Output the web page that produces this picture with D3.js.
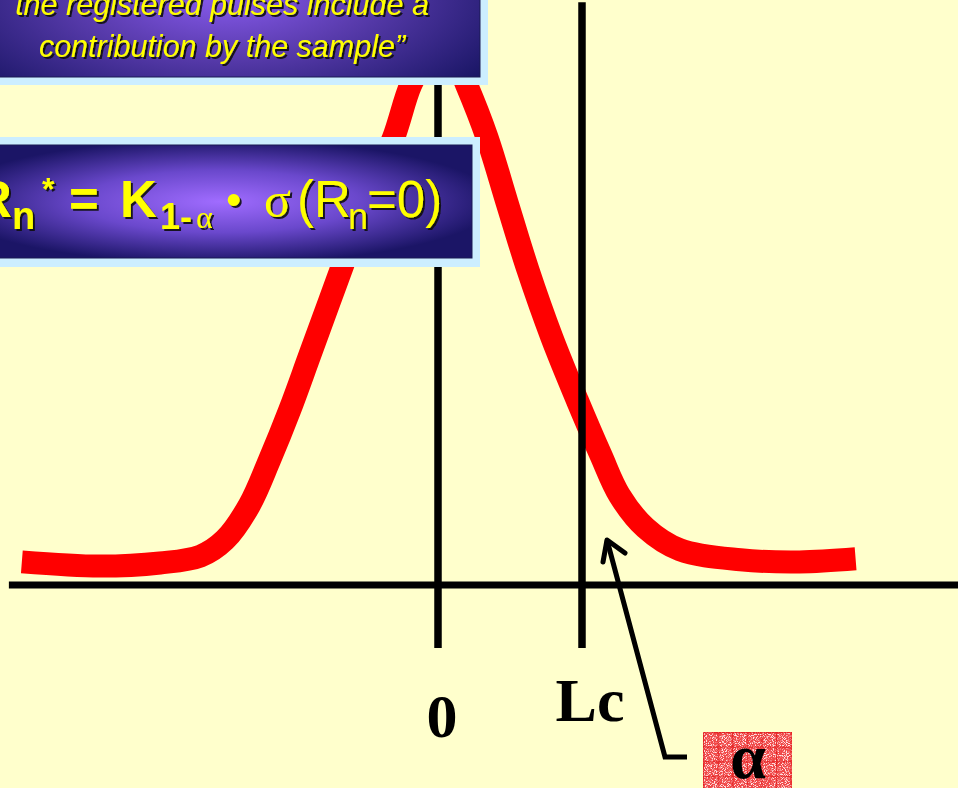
<!DOCTYPE html>
<html>
<head>
<meta charset="utf-8">
<script src="https://cdn.jsdelivr.net/npm/d3@7"></script>
<style>
  html, body { margin: 0; padding: 0; background: #FFFFCC; }
  svg { display: block; }
</style>
</head>
<body>
<script>
// curve of R_n when the sample gives nothing
var curveX = [-2.89, -2.35, -1.93, -1.65, -1.48, -1.31, -1.17, -1.03, -0.89, -0.75, -0.61, -0.47, -0.31, -0.19, -0.09, 0.01,
              0.12, 0.20, 0.34, 0.48, 0.625, 0.79, 0.97, 1.13, 1.26, 1.44, 1.68, 2.10, 2.51, 2.90];
var curveY = [0.044, 0.036, 0.042, 0.055, 0.086, 0.152, 0.238, 0.333, 0.438, 0.543, 0.648, 0.752, 0.851, 0.952, 1.000, 1.019,
              1.000, 0.952, 0.853, 0.728, 0.600, 0.472, 0.350, 0.248, 0.171, 0.109, 0.067, 0.048, 0.044, 0.050];

var tickValues = [0, 1];
var tickLabels = ['0', 'Lc'];
var axisExtent = [-2.98, 3.62];

var boxLines = ['the registered pulses include a', 'contribution by the sample\u201D'];

var width = 958,
    height = 788;

var svg = d3.select('body')
    .append('svg')
    .attr('width', width)
    .attr('height', height)

var defs = svg.append('defs')

var g1 = defs.append('radialGradient').attr('id', 'box1Grad')
    .attr('cx', 0.5).attr('cy', 0.62).attr('r', 0.62)
g1.append('stop').attr('offset', '0%').attr('stop-color', '#8a5cf0')
g1.append('stop').attr('offset', '45%').attr('stop-color', '#5a3cae')
g1.append('stop').attr('offset', '100%').attr('stop-color', '#1a1666')

var g2 = defs.append('radialGradient').attr('id', 'box2Grad')
    .attr('cx', 0.5).attr('cy', 0.5).attr('r', 0.55)
g2.append('stop').attr('offset', '0%').attr('stop-color', '#a06cff')
g2.append('stop').attr('offset', '50%').attr('stop-color', '#6a48cc')
g2.append('stop').attr('offset', '100%').attr('stop-color', '#1b1566')

var shadow = defs.append('filter').attr('id', 'shadow')
shadow.append('feDropShadow')
    .attr('dx', 2).attr('dy', 2).attr('stdDeviation', 0.6)
    .attr('flood-color', '#111').attr('flood-opacity', 0.9)

var speckle = defs.append('filter').attr('id', 'speckle')
    .attr('x', 0).attr('y', 0).attr('width', 1).attr('height', 1)
speckle.append('feTurbulence')
    .attr('type', 'fractalNoise').attr('baseFrequency', 1.1).attr('numOctaves', 1).attr('seed', 5).attr('result', 'n')
speckle.append('feColorMatrix').attr('in', 'n').attr('type', 'matrix')
    .attr('values', '0 0 0 0 1  0 0 0 0 0.8  0 0 0 0 0.8  0 0 0 6 -2.9').attr('result', 'w')
speckle.append('feComposite').attr('in', 'w').attr('in2', 'SourceGraphic').attr('operator', 'in')

var grid = defs.append('pattern').attr('id', 'grid')
    .attr('width', 14.6).attr('height', 14.6).attr('patternUnits', 'userSpaceOnUse')
    .attr('x', 703).attr('y', 732)
grid.append('path').attr('d', 'M0,0.5H14.6M0.5,0V14.6')
    .attr('stroke', '#e01010').attr('stroke-width', 1.3).attr('fill', 'none')

var xScale = d3.scaleLinear()
    .domain([0, 1])
    .range([438, 582])
var yScale = d3.scaleLinear()
    .domain([0, 1])
    .range([585, 60])

var data = curveX.map((d, i) => ({x: d, y: curveY[i]}))

var line = d3.line()
    .x(d => xScale(d.x))
    .y(d => yScale(d.y))
    .curve(d3.curveCatmullRom.alpha(0.5))

svg.append('path')
    .attr('d', line(data))
    .attr('fill', 'none')
    .attr('stroke', '#ff0000')
    .attr('stroke-width', 23)

// horizontal axis
svg.append('line')
    .attr('x1', xScale(axisExtent[0])).attr('x2', xScale(axisExtent[1]))
    .attr('y1', yScale(0)).attr('y2', yScale(0))
    .attr('stroke', '#000').attr('stroke-width', 7)

// vertical markers at 0 and Lc
svg.selectAll('.mark')
    .data(tickValues)
    .enter().append('line')
    .attr('class', 'mark')
    .attr('x1', d => xScale(d)).attr('x2', d => xScale(d))
    .attr('y1', yScale(1.11)).attr('y2', yScale(0) + 63)
    .attr('stroke', '#000').attr('stroke-width', 7.5)

svg.selectAll('.tlabel')
    .data(tickValues)
    .enter().append('text')
    .attr('class', 'tlabel')
    .attr('x', d => xScale(d) + (d === 0 ? 4 : 8))
    .attr('y', d => d === 0 ? 737 : 721)
    .attr('text-anchor', 'middle')
    .attr('font-family', '"Liberation Serif", "Times New Roman", serif')
    .attr('font-weight', 'bold')
    .attr('font-size', 62)
    .text((d, i) => tickLabels[i])

// arrow to the alpha tail
svg.append('polyline')
    .attr('points', '687,757 665,757 607,540')
    .attr('fill', 'none').attr('stroke', '#000').attr('stroke-width', 5)
svg.append('polyline')
    .attr('points', '603,562 607,540 625,553')
    .attr('fill', 'none').attr('stroke', '#000').attr('stroke-width', 5)
    .attr('stroke-linecap', 'round').attr('stroke-linejoin', 'round')

// alpha label
svg.append('rect').attr('x', 703).attr('y', 732).attr('width', 89).attr('height', 60).attr('fill', '#f04848')
svg.append('rect').attr('x', 703).attr('y', 732).attr('width', 89).attr('height', 60).attr('fill', '#fff').attr('filter', 'url(#speckle)')
svg.append('rect').attr('x', 703).attr('y', 732).attr('width', 89).attr('height', 60).attr('fill', 'url(#grid)').attr('opacity', 0.7)
svg.append('text')
    .attr('x', 748).attr('y', 778)
    .attr('text-anchor', 'middle')
    .attr('font-family', '"Liberation Serif", "Times New Roman", serif')
    .attr('font-weight', 'bold')
    .attr('font-size', 64)
    .text('\u03B1')

// box 1 (quote)
svg.append('rect').attr('x', -40).attr('y', -150).attr('width', 528).attr('height', 235).attr('fill', '#cceeff')
svg.append('rect').attr('x', -32).attr('y', -142).attr('width', 512).attr('height', 219)
    .attr('fill', 'url(#box1Grad)').attr('stroke', '#1a1a55').attr('stroke-width', 1)

var t1 = svg.append('text')
    .attr('text-anchor', 'middle')
    .attr('font-family', '"Liberation Sans", Arial, sans-serif')
    .attr('font-style', 'italic')
    .attr('font-size', 30.5)
    .attr('fill', '#ffff00')
    .attr('filter', 'url(#shadow)')
t1.selectAll('tspan')
    .data(boxLines)
    .enter().append('tspan')
    .attr('x', 222)
    .attr('y', (d, i) => 15 + i * 42)
    .text(d => d)

// box 2 (formula)
svg.append('rect').attr('x', -40).attr('y', 137).attr('width', 520).attr('height', 130).attr('fill', '#cceeff')
svg.append('rect').attr('x', -32).attr('y', 145).attr('width', 504).attr('height', 113)
    .attr('fill', 'url(#box2Grad)').attr('stroke', '#1a1a55').attr('stroke-width', 1)

var sans = '"Liberation Sans", Arial, sans-serif';
var serif = '"Liberation Serif", "Times New Roman", serif';
var parts = [
    {t: 'R', x: -25, y: 217, size: 51, bold: true, font: sans},
    {t: 'n', x: 12, y: 229, size: 38, bold: true, font: sans},
    {t: '*', x: 42, y: 200, size: 32, bold: true, font: sans},
    {t: '=', x: 69, y: 217, size: 51, bold: true, font: sans},
    {t: 'K', x: 120, y: 217, size: 51, bold: true, font: sans},
    {t: '1-', x: 160, y: 229, size: 36, bold: true, font: sans},
    {t: '\u03B1', x: 196, y: 228, size: 32, bold: false, font: serif},
    {t: '\u2022', x: 226, y: 215, size: 44, bold: false, font: sans},
    {t: '\u03C3', x: 264, y: 217, size: 50, bold: false, font: serif},
    {t: '(R', x: 297, y: 217, size: 51, bold: false, font: sans},
    {t: 'n', x: 348, y: 229, size: 36, bold: false, font: sans},
    {t: '=0)', x: 367, y: 217, size: 51, bold: false, font: sans}
];
svg.append('g')
    .attr('filter', 'url(#shadow)')
    .selectAll('text')
    .data(parts)
    .enter().append('text')
    .attr('x', d => d.x)
    .attr('y', d => d.y)
    .attr('font-family', d => d.font)
    .attr('font-weight', d => d.bold ? 'bold' : 'normal')
    .attr('font-size', d => d.size)
    .attr('fill', '#ffff00')
    .text(d => d.t)
</script>
</body>
</html>
